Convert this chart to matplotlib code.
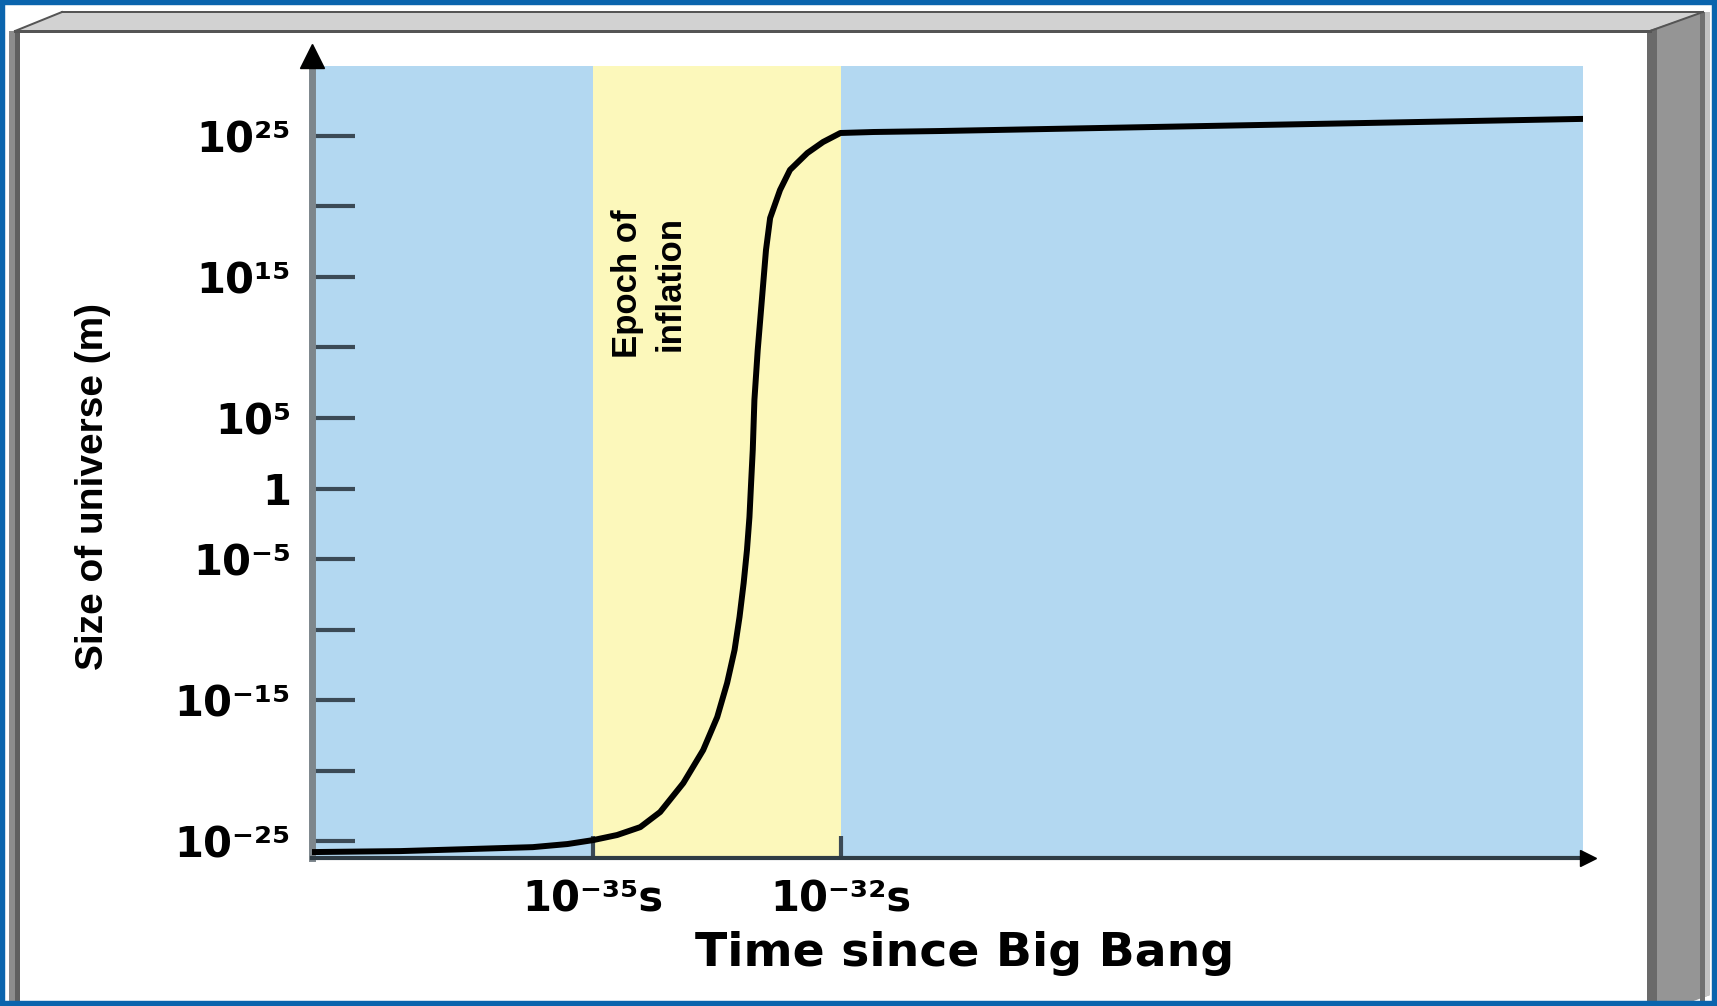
import numpy as np
import matplotlib
matplotlib.use("Agg")
import matplotlib.pyplot as plt
from matplotlib import font_manager
from matplotlib.patches import Polygon, Rectangle
from matplotlib.lines import Line2D

W, H = 1717, 1006

# curve, as log10 values
log_time = np.array([-38.40, -37.33, -36.52, -35.73, -35.31, -35.00, -34.71, -34.43,
                     -34.19, -33.91, -33.67, -33.50, -33.38, -33.29, -33.23, -33.18,
                     -33.14, -33.11, -33.09, -33.07, -33.05, -33.01, -32.96, -32.91,
                     -32.86, -32.74, -32.62, -32.41, -32.22, -32.01, -31.61, -30.80,
                     -23.03])
log_size = np.array([-25.78, -25.71, -25.57, -25.43, -25.21, -24.93, -24.57, -24.01,
                     -22.94, -20.89, -18.55, -16.21, -13.79, -11.45, -9.11, -6.70,
                     -4.36, -2.02, 0.39, 2.73, 6.28, 9.82, 13.37, 16.91,
                     19.18, 21.17, 22.59, 23.79, 24.57, 25.21, 25.28, 25.35,
                     26.21])

epoch = (-35, -32)
y_tick_exp = [25, 20, 15, 10, 5, 0, -5, -10, -15, -20, -25]
y_tick_labels = ["10²⁵", "", "10¹⁵", "", "10⁵", "1", "10⁻⁵", "", "10⁻¹⁵", "", "10⁻²⁵"]
x_tick_exp = [-35, -32]
x_tick_labels = ["10⁻³⁵s", "10⁻³²s"]

names = {f.name for f in font_manager.fontManager.ttflist}
narrow = "Liberation Sans Narrow" if "Liberation Sans Narrow" in names else "Liberation Sans"

def fx(px):
    return px / W

def fy(py):
    return 1 - py / H

fig = plt.figure(figsize=(W / 100, H / 100), dpi=100, facecolor="white")

# 3D box frame around the chart
def poly(pts, color, z=0):
    fig.add_artist(Polygon([(fx(x), fy(y)) for x, y in pts], closed=True,
                           transform=fig.transFigure, facecolor=color,
                           edgecolor="none", zorder=z))

poly([(15, 31), (62, 12), (1703, 12), (1650, 31)], "#d2d2d2")
poly([(1647, 31), (1703, 12), (1710, 12), (1710, 995), (1680, 1006), (1647, 1006)], "#959595")
poly([(1647, 31), (1657, 28), (1657, 1006), (1647, 1006)], "#6a6a6a")
poly([(1700, 14), (1705, 12), (1705, 1006), (1700, 1006)], "#707070")
poly([(1705, 12), (1710, 12), (1710, 995), (1705, 997)], "#c2c2c2")
poly([(9, 31), (15, 31), (15, 1006), (9, 1006)], "#8c8c8c")
poly([(15, 31), (20, 31), (20, 1006), (15, 1006)], "#5f5f5f")
for xs, ys, lw in [((62, 1703), (12, 12), 2), ((15, 1650), (31, 31), 3),
                   ((15, 62), (31, 12), 2), ((1650, 1703), (31, 12), 2),
                   ((20, 1647), (1004, 1004), 2)]:
    fig.add_artist(Line2D([fx(x) for x in xs], [fy(y) for y in ys], color="#555555",
                          lw=lw * 0.72, transform=fig.transFigure))
fig.add_artist(Rectangle((0, 0), 1, 1, transform=fig.transFigure, facecolor="none",
                         edgecolor="#0a64ad", lw=7.5, zorder=10))

# plot area
ax = fig.add_axes([fx(312), fy(858), fx(1583) - fx(312), fy(66) - fy(858)])
ax.set_facecolor("#b3d8f1")
ax.set_xscale("log")
ax.set_yscale("log")
ax.set_xlim(10.0 ** -38.4, 10.0 ** -23.03)
ax.set_ylim(10.0 ** -26.2, 10.0 ** 29.96)

ax.axvspan(10.0 ** epoch[0], 10.0 ** epoch[1], color="#fcf8bb", lw=0, zorder=0.5)
ax.plot(10.0 ** log_time, 10.0 ** log_size, color="black", lw=4.3,
        solid_joinstyle="round", zorder=3)

ax.set_yticks([10.0 ** e for e in y_tick_exp])
ax.set_yticklabels(y_tick_labels)
ax.set_xticks([10.0 ** e for e in x_tick_exp])
ax.set_xticklabels(x_tick_labels)
ax.minorticks_off()
ax.tick_params(axis="y", direction="in", length=31, width=3, color="#3b4a56", pad=15,
               labelsize=30)
ax.tick_params(axis="x", direction="in", length=16, width=3, color="#3b4a56", pad=15,
               labelsize=30)
for lab in ax.get_xticklabels() + ax.get_yticklabels():
    lab.set_fontfamily("DejaVu Sans")
    lab.set_fontweight("bold")

for side in ("top", "right"):
    ax.spines[side].set_visible(False)
ax.spines["left"].set_color("#7d868c")
ax.spines["left"].set_linewidth(5)
ax.spines["bottom"].set_color("#2f3c45")
ax.spines["bottom"].set_linewidth(3)

# arrow heads on the axes
ax.plot([0], [1.012], marker="^", markersize=17, color="black", transform=ax.transAxes,
        clip_on=False, zorder=5)
ax.plot([1.004], [0], marker=">", markersize=12, color="black", transform=ax.transAxes,
        clip_on=False, zorder=5)

ax.text(0.265, 0.725, "Epoch of\ninflation", transform=ax.transAxes, rotation=90,
        ha="center", va="center", multialignment="center", fontsize=25,
        fontfamily=narrow, fontweight="bold", linespacing=1.35)

fig.text(fx(93), fy(486), "Size of universe (m)", rotation=90, ha="center", va="center",
         fontsize=28, fontfamily=narrow, fontweight="bold")
fig.text(fx(965), fy(953), "Time since Big Bang", ha="center", va="center",
         fontsize=34, fontfamily="DejaVu Sans", fontweight="bold")

fig.savefig("out.png", dpi=100, facecolor="white")
